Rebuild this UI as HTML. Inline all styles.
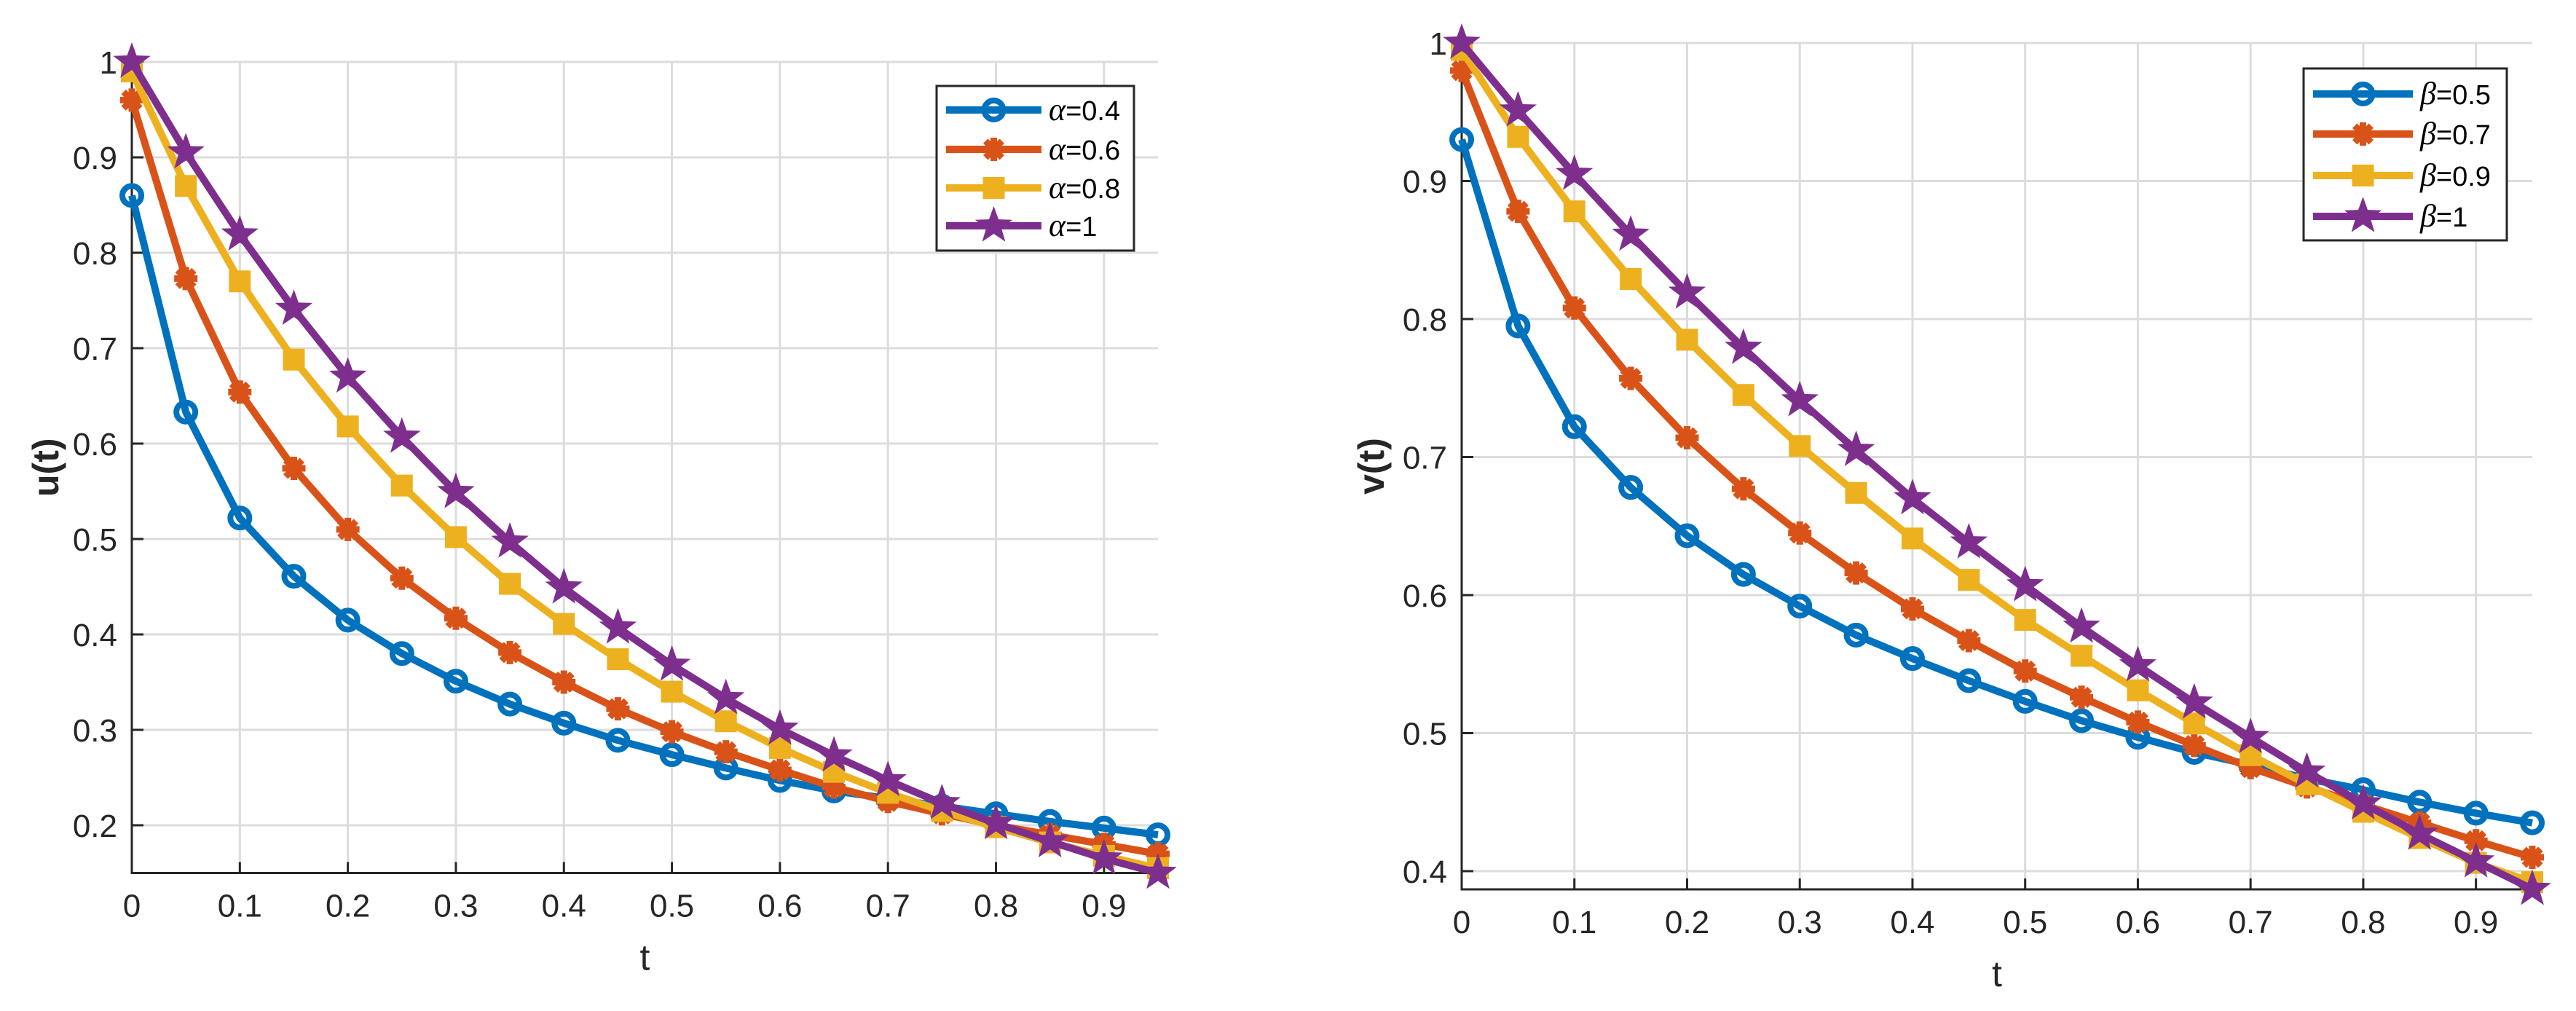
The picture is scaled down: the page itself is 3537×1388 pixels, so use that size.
<!DOCTYPE html>
<html><head><meta charset="utf-8"><style>
html,body{margin:0;padding:0;background:#fff;}
svg{display:block;}
text{font-family:"Liberation Sans",Arial,sans-serif;fill:#262626;}
</style></head><body>
<svg id="fig" width="3537" height="1388" viewBox="0 0 3537 1388" xmlns="http://www.w3.org/2000/svg"></svg>
<script>
const tValues=[0,0.05,0.1,0.15,0.2,0.25,0.3,0.35,0.4,0.45,0.5,0.55,0.6,0.65,0.7,0.75,0.8,0.85,0.9,0.95];
const uAlpha04=[0.86,0.633,0.522,0.461,0.415,0.380,0.351,0.327,0.307,0.289,0.274,0.260,0.247,0.236,0.228,0.220,0.212,0.204,0.197,0.190];
const uAlpha06=[0.96,0.773,0.654,0.574,0.51,0.459,0.417,0.381,0.35,0.322,0.298,0.277,0.258,0.24,0.225,0.212,0.2,0.19,0.18,0.17];
const uAlpha08=[0.99,0.87,0.77,0.688,0.618,0.556,0.502,0.453,0.411,0.374,0.340,0.309,0.281,0.256,0.234,0.215,0.198,0.182,0.168,0.155];
const uAlpha1=[1.0,0.905,0.819,0.741,0.670,0.607,0.549,0.497,0.449,0.407,0.368,0.333,0.301,0.273,0.247,0.223,0.202,0.183,0.165,0.150];
const vBeta05=[0.93,0.795,0.722,0.678,0.643,0.615,0.592,0.571,0.554,0.538,0.523,0.509,0.497,0.486,0.477,0.467,0.459,0.450,0.442,0.435];
const vBeta07=[0.98,0.878,0.808,0.757,0.714,0.677,0.645,0.616,0.59,0.567,0.545,0.526,0.508,0.491,0.475,0.461,0.448,0.435,0.422,0.41];
const vBeta09=[0.995,0.932,0.878,0.829,0.785,0.745,0.708,0.674,0.641,0.611,0.582,0.556,0.531,0.507,0.484,0.463,0.443,0.424,0.406,0.392];
const vBeta1=[1.0,0.951,0.905,0.861,0.819,0.779,0.741,0.705,0.670,0.638,0.607,0.577,0.549,0.522,0.497,0.472,0.449,0.427,0.407,0.387];
const xTicks=[0,0.1,0.2,0.3,0.4,0.5,0.6,0.7,0.8,0.9];
const xTickLabels=["0","0.1","0.2","0.3","0.4","0.5","0.6","0.7","0.8","0.9"];
const uTicks=[0.2,0.3,0.4,0.5,0.6,0.7,0.8,0.9,1];
const uTickLabels=["0.2","0.3","0.4","0.5","0.6","0.7","0.8","0.9","1"];
const vTicks=[0.4,0.5,0.6,0.7,0.8,0.9,1];
const vTickLabels=["0.4","0.5","0.6","0.7","0.8","0.9","1"];
const alphaLabels=["0.4","0.6","0.8","1"];
const betaLabels=["0.5","0.7","0.9","1"];

const NS="http://www.w3.org/2000/svg";
const svg=document.getElementById('fig');
const COLORS=['#0072BD','#D95319','#EDB120','#7E2F8E'];
const MARKERS=['circle','asterisk','square','star'];
function mk(tag,attrs,parent){const e=document.createElementNS(NS,tag);for(const k in attrs)e.setAttribute(k,attrs[k]);(parent||svg).appendChild(e);return e;}
function marker(g,type,x,y,color){
  let m;
  if(type==='circle'){m=mk('circle',{cx:x,cy:y,r:13,fill:'none',stroke:color,'stroke-width':8},g);}
  else if(type==='square'){m=mk('rect',{x:x-15,y:y-15,width:30,height:30,fill:color},g);}
  else if(type==='asterisk'){
    m=mk('g',{},g);
    for(let a=0;a<4;a++){const ang=a*Math.PI/4;const dx=16*Math.cos(ang),dy=16*Math.sin(ang);
      mk('line',{x1:x-dx,y1:y-dy,x2:x+dx,y2:y+dy,stroke:color,'stroke-width':9},m);}
  } else {
    let pts=[];for(let i=0;i<10;i++){const r=i%2?11:27;const a=-Math.PI/2+i*Math.PI/5;pts.push((x+r*Math.cos(a)).toFixed(1)+','+(y+r*Math.sin(a)).toFixed(1));}
    m=mk('polygon',{points:pts.join(' '),fill:color},g);
  }
  
  
}
function plot(cfg){
  const P=mk('g',{});
  
  
  const X=v=>cfg.x0+(v-0)/(0.95)*(cfg.x1-cfg.x0);
  const Y=v=>cfg.yb+(v-cfg.ymin)/(cfg.ymax-cfg.ymin)*(cfg.yt-cfg.yb);
  const grid=mk('g',{stroke:'#dcdcdc','stroke-width':3},P);
  
  
  cfg.xt.forEach(v=>{if(v>0)mk('line',{x1:X(v),y1:cfg.yt,x2:X(v),y2:cfg.yb},grid);});
  cfg.yt2.forEach(v=>mk('line',{x1:cfg.x0,y1:Y(v),x2:cfg.x1,y2:Y(v)},grid));
  const ax=mk('g',{stroke:'#262626','stroke-width':3},P);
  
  
  mk('line',{x1:cfg.x0,y1:cfg.yt-2,x2:cfg.x0,y2:cfg.yb+1.5},ax);
  mk('line',{x1:cfg.x0-1.5,y1:cfg.yb,x2:cfg.x1,y2:cfg.yb},ax);
  cfg.xt.forEach(v=>mk('line',{x1:X(v),y1:cfg.yb,x2:X(v),y2:cfg.yb-15},ax));
  cfg.yt2.forEach(v=>mk('line',{x1:cfg.x0,y1:Y(v),x2:cfg.x0+16,y2:Y(v)},ax));
  cfg.xt.forEach((v,i)=>{const t=mk('text',{x:X(v),y:cfg.yb+60,'font-size':44,'text-anchor':'middle'},P);t.textContent=cfg.xl[i];
    });
  cfg.yt2.forEach((v,i)=>{const t=mk('text',{x:cfg.x0-20,y:Y(v)+16,'font-size':44,'text-anchor':'end'},P);t.textContent=cfg.yl[i];
    });
  const xt=mk('text',{x:(cfg.x0+cfg.x1)/2,y:cfg.yb+133,'font-size':50,'text-anchor':'middle'},P);xt.textContent='t';
  
  const cy=(cfg.yt+cfg.yb)/2;
  const yt=mk('text',{x:cfg.ylx,y:cy,'font-size':50,'text-anchor':'middle','font-weight':'bold',transform:`rotate(-90 ${cfg.ylx} ${cy})`},P);yt.textContent=cfg.ytitle;
  
  cfg.series.forEach((s,si)=>{
    const g=mk('g',{},P);
    
    
    const pts=tValues.map((t,i)=>X(t).toFixed(1)+','+Y(s[i]).toFixed(1)).join(' ');
    mk('polyline',{points:pts,fill:'none',stroke:COLORS[si],'stroke-width':10,'stroke-linejoin':'round'},g);
    tValues.forEach((t,i)=>marker(g,MARKERS[si],X(t),Y(s[i]),COLORS[si]));
  });
  const L=cfg.leg;
  const lg=mk('g',{},P);
  
  
  mk('rect',{x:L.x,y:L.y,width:L.w,height:L.h,fill:'#fff',stroke:'#262626','stroke-width':3},lg);
  L.rows.forEach((ry,i)=>{
    const e=mk('g',{},lg);
    
    
    mk('line',{x1:L.lx1,y1:ry,x2:L.lx2,y2:ry,stroke:COLORS[i],'stroke-width':10},e);
    marker(e,MARKERS[i],(L.lx1+L.lx2)/2,ry,COLORS[i]);
    const t=mk('text',{x:L.tx,y:ry+14,'font-size':38,style:'fill:#000'},e);
    const s1=mk('tspan',{'font-family':'Liberation Serif, serif','font-style':'italic','font-size':44},t);s1.textContent=cfg.sym;
    const s2=mk('tspan',{},t);s2.textContent='='+cfg.labels[i];
  });
}
plot({name:'u-plot',x0:181,x1:1590,yt:85,yb:1198.5,ymin:0.15,ymax:1,xt:xTicks,xl:xTickLabels,yt2:uTicks,yl:uTickLabels,
  ytitle:'u(t)',ylx:80,series:[uAlpha04,uAlpha06,uAlpha08,uAlpha1],sym:'α',labels:alphaLabels,
  leg:{x:1286,y:118,w:271,h:226,rows:[151,205,258,310],lx1:1299,lx2:1430,tx:1440}});
plot({name:'v-plot',x0:2007,x1:3477,yt:59,yb:1221,ymin:0.3868,ymax:1,xt:xTicks,xl:xTickLabels,yt2:vTicks,yl:vTickLabels,
  ytitle:'v(t)',ylx:1900,series:[vBeta05,vBeta07,vBeta09,vBeta1],sym:'β',labels:betaLabels,
  leg:{x:3163,y:94,w:279,h:236,rows:[129,184,241,297],lx1:3176,lx2:3313,tx:3323}});
</script>
</body></html>
